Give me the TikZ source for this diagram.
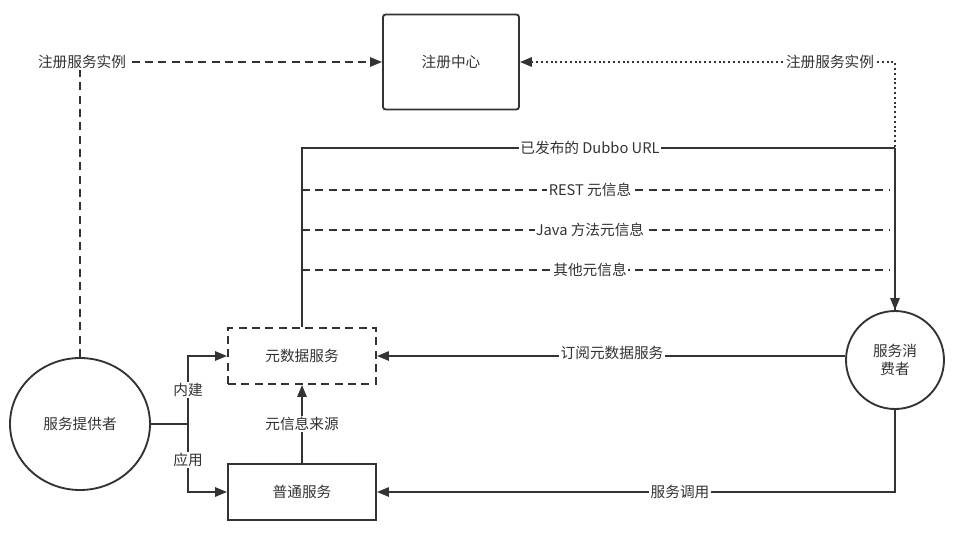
\documentclass[tikz,border=0pt]{standalone}
\usepackage{fontspec}
\setmainfont{Noto Sans CJK SC}
\usetikzlibrary{arrows.meta,shapes.geometric}
\begin{document}
\begin{tikzpicture}[x=0.75pt,y=-0.75pt,line width=1.4pt,draw={black!80},
  every node/.style={font=\fontsize{11}{13}\selectfont,text=black!80},
  lbl/.style={fill=white,inner sep=1pt},
  box/.style={draw,minimum width=148*0.75pt,minimum height=56*0.75pt},
  arr/.style={-{Triangle[length=9pt,width=7pt]}},
  dsh/.style={dash pattern=on 6pt off 4pt}]
\useasboundingbox (0,0) rectangle (957,544);
\node[box,minimum width=136*0.75pt,minimum height=95*0.75pt,rounded corners=2pt] (reg) at (451,62) {注册中心};
\node[draw,ellipse,minimum width=140*0.75pt,minimum height=132*0.75pt,inner sep=0pt] (prov) at (80,424) {服务提供者};
\node[draw,circle,minimum size=98*0.75pt,inner sep=0pt,align=center] (cons) at (895,360) {服务消\\费者};
\node[box,dsh] (meta) at (302,356) {元数据服务};
\node[box] (norm) at (302,492) {普通服务};
% provider registration
\draw[dsh,arr] (prov.north) -- (80,62) -- (reg.west);
\node[lbl] at (82,62) {注册服务实例};
% consumer registration
\draw[dotted,line width=1.6pt,arr] (cons.north) -- (895,62) -- (reg.east);
\node[lbl] at (830,62) {注册服务实例};
% metadata lines
\coordinate (mt) at (302,148);
\draw (meta.north) -- (mt) -- (895,148);
\draw[arr] (895,148) -- (cons.north);
\node[lbl] at (590,148) {已发布的 Dubbo URL};
\foreach \y/\t in {190/REST 元信息,230/Java 方法元信息,270/其他元信息}{
  \draw[dsh] (302,\y) -- (890,\y);
  \node[lbl] at (590,\y) {\t};
}
% subscribe
\draw[arr] (cons.west |- meta.east) -- (meta.east);
\node[lbl] at (612,353) {订阅元数据服务};
% service call
\draw[arr] (cons.south) -- (895,492) -- (norm.east);
\node[lbl] at (680,492) {服务调用};
% provider branches
\coordinate (br) at (188,424);
\draw (prov.east) -- (br);
\draw[arr] (br) -- (188,356) -- (meta.west);
\draw[arr] (br) -- (188,492) -- (norm.west);
\node[lbl] at (188,390) {内建};
\node[lbl] at (188,460) {应用};
% source
\draw[arr] (norm.north) -- (meta.south);
\node[lbl] at (302,424) {元信息来源};
\end{tikzpicture}
\end{document}
